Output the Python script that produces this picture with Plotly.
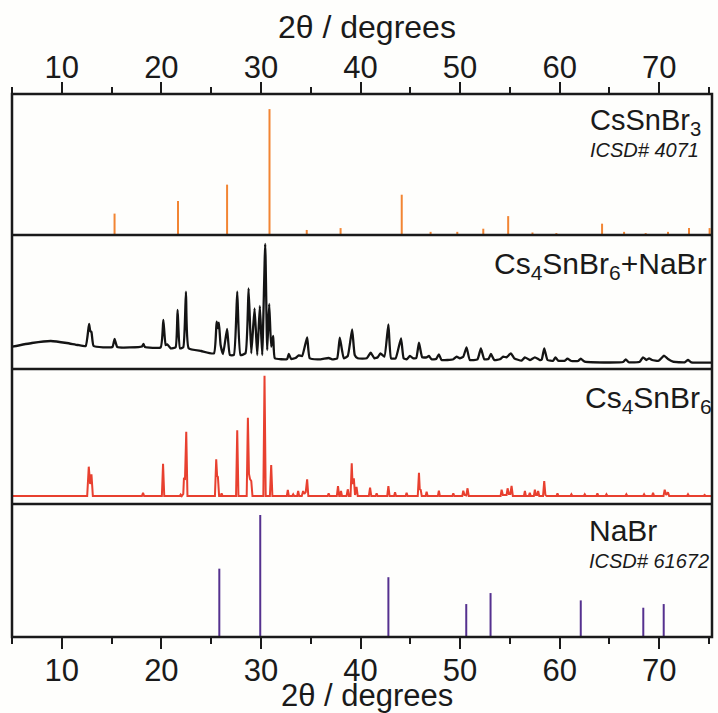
import plotly.graph_objects as go

# ---------------- data ----------------
# CsSnBr3 reference sticks (ICSD 4071)
cssnbr3_pos = [15.3, 21.67, 26.6, 30.86, 34.6, 38.0, 44.14, 47.04, 49.72, 52.33, 54.83,
               57.27, 59.67, 64.26, 66.47, 68.64, 70.88, 72.99, 75.06]
cssnbr3_int = [17, 27, 40, 100, 4, 5.5, 32, 2.5, 2.5, 5, 15, 2, 1.5, 9, 2.5, 1.5, 2.5, 5.5, 5.5]

# Measured Cs4SnBr6 + NaBr pattern
meas_x = [5.0, 7.0, 8.9, 10.5, 11.6, 12.4, 12.74, 12.86, 12.98, 13.2, 15.08, 15.3, 15.58, 18.05, 18.2,
          18.35, 19.93, 20.2, 20.43, 20.6, 20.93, 21.43, 21.63, 21.87, 22.2, 22.47, 22.74, 24.0, 25.28,
          25.55, 25.67, 25.78, 25.95, 26.2, 26.6, 26.88, 27.28, 27.62, 27.95, 28.45, 28.76, 29.03, 29.36,
          29.63, 29.89, 30.13, 30.43, 30.63, 30.83, 31.03, 31.23, 31.4, 32.63, 32.8, 33.04, 33.47, 33.8,
          34.14, 34.64, 34.9, 35.98, 36.8, 37.15, 37.65, 37.92, 38.32, 38.72, 39.16, 39.42, 39.72, 40.62,
          41.02, 41.39, 41.73, 42.0, 42.4, 42.8, 43.07, 43.53, 44.07, 44.33, 44.63, 44.97, 45.3, 45.6,
          45.87, 46.2, 46.64, 46.87, 47.14, 47.6, 47.87, 48.14, 49.32, 49.65, 49.98, 50.32, 50.65, 50.98,
          51.75, 52.09, 52.43, 52.85, 53.1, 53.43, 54.0, 54.33, 54.67, 55.1, 55.44, 56.17, 56.51, 57.01,
          57.51, 58.01, 58.2, 58.45, 58.78, 59.35, 59.58, 59.85, 60.5, 60.78, 61.18, 61.85, 62.12, 62.52,
          66.37, 66.64, 66.94, 68.04, 68.37, 68.71, 68.98, 69.28, 69.95, 70.48, 70.88, 71.38, 72.55, 72.89,
          73.22, 75.3]
meas_y = [22.3, 26, 28, 26, 24, 23, 45, 38, 37, 23, 22, 30, 22, 22.5, 25,
          22, 21.7, 49, 24, 24.7, 20.7, 21.7, 59, 20.7, 21.7, 77.3, 20.7, 18, 15.7,
          47.3, 41, 46.3, 24, 15, 40, 14, 14, 77.3, 14, 15.7, 80.7, 15.7, 60.7,
          14, 63, 14, 125, 19, 65, 22.3, 33, 10.7, 10, 15, 10, 11, 13.7,
          13, 31.7, 10.7, 9.7, 11, 9.7, 10.5, 31.3, 10.7, 13, 39.7, 14, 10.7, 10.7,
          16.3, 10.7, 11.7, 15.7, 12.3, 44.7, 10.7, 10.7, 30.7, 10.7, 9.7, 13, 10.7, 11,
          26.3, 11.7, 11.7, 13, 9.7, 10, 14.7, 9, 9.7, 12.3, 10.7, 12.3, 21.7, 9,
          9.7, 20.7, 9.7, 10, 15, 9, 9.7, 12.3, 11.7, 15.7, 10.7, 8.3, 11.7, 9,
          11.7, 9, 9.5, 20.7, 9, 8.3, 11.7, 8.3, 8.2, 10.3, 8, 8, 10.3, 7.3,
          7, 9.7, 6.7, 7.3, 11.7, 9, 10.7, 9, 8.3, 13.3, 10, 7.3, 6.7, 9,
          6.7, 6.3]

# Simulated Cs4SnBr6 pattern
sim_x = [5.0, 12.55, 12.71, 12.85, 12.98, 13.12, 18.05, 18.16, 18.27, 20.05, 20.17, 20.29, 21.85, 21.94,
         22.05, 22.2, 22.27, 22.37, 22.5, 22.62, 25.38, 25.51, 25.6, 25.68, 25.8, 25.95, 26.05, 26.15,
         27.5, 27.62, 27.74, 28.57, 28.69, 28.8, 28.9, 29.03, 29.15, 30.24, 30.36, 30.48, 30.9, 31.03,
         31.15, 32.6, 32.7, 32.8, 33.14, 33.24, 33.34, 33.64, 33.74, 33.84, 34.1, 34.24, 34.35, 34.5,
         34.64, 34.76, 36.7, 36.8, 36.9, 37.62, 37.74, 37.86, 37.94, 38.04, 38.14, 38.6, 38.72, 38.84,
         39.0, 39.12, 39.2, 39.33, 39.45, 39.6, 39.72, 40.84, 40.96, 41.08, 41.52, 41.62, 41.72, 42.68,
         42.8, 42.92, 43.37, 43.47, 43.57, 44.53, 44.63, 44.73, 45.75, 45.87, 45.95, 46.05, 46.15, 46.54,
         46.64, 46.74, 47.77, 47.87, 47.97, 49.22, 49.32, 49.42, 50.22, 50.32, 50.45, 50.62, 50.75, 50.87,
         54.07, 54.17, 54.3, 54.67, 54.77, 54.9, 55.05, 55.17, 55.3, 56.41, 56.51, 56.61, 56.9, 57.0,
         57.1, 57.41, 57.51, 57.62, 57.74, 57.84, 57.95, 58.33, 58.45, 58.57, 58.7, 59.68, 59.78, 59.88,
         61.08, 61.18, 61.28, 62.42, 62.52, 62.62, 63.69, 63.79, 63.89, 64.6, 64.7, 64.8, 66.6, 66.7,
         66.8, 68.38, 68.48, 68.58, 69.28, 69.38, 69.48, 70.43, 70.55, 70.7, 70.88, 71.0, 72.79, 72.89,
         72.99, 74.46, 74.56, 74.66, 75.3]
sim_y = [8, 8, 37.3, 20, 29.7, 8, 8, 11.3, 8, 8, 40.3, 8, 8, 9.5,
         8, 10, 26.3, 24, 72.3, 8, 8, 44.7, 28, 27, 8, 8, 10.7, 8,
         8, 73.7, 8, 8, 86.3, 30, 25, 23, 8, 8, 128.3, 8, 8, 39,
         8, 8, 14, 8, 8, 9.7, 8, 8, 13, 8, 8, 13, 10, 12,
         24.7, 8, 8, 10.7, 8, 8, 18, 8, 8, 13, 8, 8, 14.7, 8,
         8, 40.7, 20, 25.7, 9, 17, 8, 8, 16.3, 8, 8, 10.7, 8, 8,
         18, 8, 8, 11.7, 8, 8, 11.3, 8, 8, 31.3, 15, 14, 8, 8,
         12.3, 8, 8, 13.3, 8, 8, 10.7, 8, 8, 13.3, 9, 8.5, 15.7, 8,
         8, 14.3, 9, 9, 15.7, 10, 10, 18, 8, 8, 13, 8, 8, 11.3,
         8, 8, 14.3, 9, 9, 13, 8, 8, 23, 9, 8, 8, 10.7, 8,
         8, 9.7, 8, 8, 9.7, 8, 8, 10.7, 8, 8, 9.7, 8, 8, 9.7,
         8, 8, 9.7, 8, 8, 11.3, 8, 8, 14.3, 9, 11.7, 8, 8, 9.7,
         8, 8, 9, 8, 8]

# NaBr reference sticks (ICSD 61672)
nabr_pos = [25.82, 29.93, 42.8, 50.62, 53.06, 62.12, 68.4, 70.45]
nabr_int = [56, 100, 49, 27, 36, 30, 24, 27]

x_range = [5.0, 75.3]
tick_vals = [10, 20, 30, 40, 50, 60, 70]
axis_title = "2θ / degrees"

# ---------------- styling ----------------
ORANGE = "#F28533"
BLACK = "#141414"
RED = "#E8402F"
PURPLE = "#55318F"
FONT = "Liberation Sans"

def sticks(pos, inten):
    xs, ys = [], []
    for p, h in zip(pos, inten):
        xs += [p, p, None]
        ys += [0, h, None]
    return xs, ys

fig = go.Figure()

sx, sy = sticks(cssnbr3_pos, cssnbr3_int)
fig.add_trace(go.Scatter(x=sx, y=sy, mode="lines", line=dict(color=ORANGE, width=2),
                         xaxis="x2", yaxis="y", showlegend=False, hoverinfo="skip"))
fig.add_trace(go.Scatter(x=meas_x, y=meas_y, mode="lines",
                         line=dict(color=BLACK, width=2.3, shape="spline", smoothing=0.4),
                         xaxis="x", yaxis="y2", showlegend=False))
fig.add_trace(go.Scatter(x=sim_x, y=sim_y, mode="lines", line=dict(color=RED, width=2),
                         xaxis="x", yaxis="y3", showlegend=False))
nx, ny = sticks(nabr_pos, nabr_int)
fig.add_trace(go.Scatter(x=nx, y=ny, mode="lines", line=dict(color=PURPLE, width=2),
                         xaxis="x", yaxis="y4", showlegend=False, hoverinfo="skip"))

# panel boundaries (pixel rows) -> paper coords
TOP, BOT, LEFT, RIGHT = 94, 637, 12, 712
H = BOT - TOP
W = RIGHT - LEFT
def py(p):
    return (BOT - p) / H
def px(p):
    return (p - LEFT) / W

b1, b2, b3 = py(235), py(369), py(504)

hidden_y = dict(showticklabels=False, showgrid=False, zeroline=False, showline=False, ticks="")
def xcommon(standoff):
    return dict(range=x_range, tickmode="array", tickvals=tick_vals, ticks="outside",
                ticklen=11, tickwidth=2, tickcolor="#1a1a1a", showgrid=False, zeroline=False,
                showline=False, tickfont=dict(family=FONT, size=31, color="#1a1a1a"),
                ticklabelstandoff=standoff,
                minor=dict(tickmode="array", tickvals=[5, 15, 25, 35, 45, 55, 65, 75],
                           ticks="outside", ticklen=6, tickwidth=2, tickcolor="#1a1a1a"))

fig.update_layout(
    width=718, height=713,
    margin=dict(l=LEFT, r=718 - RIGHT, t=TOP, b=713 - BOT),
    paper_bgcolor="#fefefc", plot_bgcolor="#fefefc",
    xaxis=dict(anchor="y4", side="bottom", **xcommon(-5)),
    xaxis2=dict(anchor="y", side="top", matches="x", **xcommon(-8)),
    yaxis=dict(domain=[b1, 1], range=[0, 112], **hidden_y),
    yaxis2=dict(domain=[b2, b1], range=[0, 134], **hidden_y),
    yaxis3=dict(domain=[b3, b2], range=[0, 135], **hidden_y),
    yaxis4=dict(domain=[0, b3], range=[0, 109], **hidden_y),
    font=dict(family=FONT, color="#1a1a1a"),
)

LW = 2.5
shapes = [dict(type="rect", xref="paper", yref="paper", x0=0, x1=1, y0=0, y1=1,
               line=dict(color="#1a1a1a", width=LW))]
for b in (b1, b2, b3):
    shapes.append(dict(type="line", xref="paper", yref="paper", x0=0, x1=1, y0=b, y1=b,
                       line=dict(color="#1a1a1a", width=LW)))
fig.update_layout(shapes=shapes)

ann = []
def label(text, xpix, ypix, size, anchor="left", italic=False):
    t = f"<i>{text}</i>" if italic else text
    ann.append(dict(text=t, xref="paper", yref="paper", x=px(xpix), y=py(ypix),
                    xanchor=anchor, yanchor="middle", showarrow=False, borderpad=0,
                    font=dict(family=FONT, size=size, color="#1a1a1a")))

label(axis_title, 367, 27, 32, anchor="center")
label(axis_title, 367, 695, 31, anchor="center")
label("CsSnBr<sub>3</sub>", 589, 122, 29)
label("ICSD# 4071", 589, 150, 20, italic=True)
label("Cs<sub>4</sub>SnBr<sub>6</sub>+NaBr", 708, 265, 30, anchor="right")
label("Cs<sub>4</sub>SnBr<sub>6</sub>", 713, 399, 30, anchor="right")
label("NaBr", 588, 530, 30)
label("ICSD# 61672", 588, 561, 20, italic=True)
fig.update_layout(annotations=ann)

fig.write_html("out.html")
